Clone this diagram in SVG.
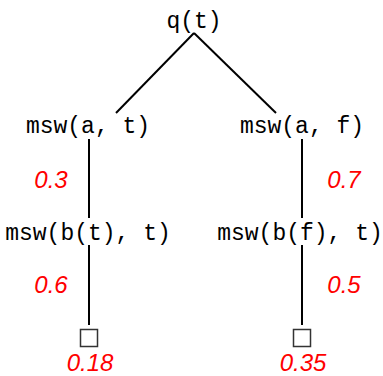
<svg xmlns="http://www.w3.org/2000/svg" width="383" height="376" viewBox="0 0 383 376">
<style>
.n{font-family:"Liberation Mono","DejaVu Sans Mono",monospace;font-size:23px;fill:#000;text-anchor:middle}
.p{font-family:"Liberation Sans",Arial,sans-serif;font-style:italic;font-size:24px;fill:#ff0000;text-anchor:middle}
.e{stroke:#000;stroke-width:2;fill:none}
.leaf{stroke:#333;stroke-width:1.5;fill:#fff}
</style>
<rect width="383" height="376" fill="#fff"/>
<g id="connectors">
<line class="e" x1="194" y1="33" x2="116" y2="113"/>
<line class="e" x1="194" y1="33" x2="276" y2="113"/>
<line class="e" x1="89" y1="139" x2="89" y2="218"/>
<line class="e" x1="302" y1="139" x2="302" y2="218"/>
<line class="e" x1="89" y1="245" x2="89" y2="325"/>
<line class="e" x1="302" y1="245" x2="302" y2="325"/>
</g>
<g id="root"><text class="n" x="194" y="28">q(t)</text></g>
<g id="msw_a_t"><text class="n" x="88" y="133">msw(a, t)</text></g>
<g id="msw_a_f"><text class="n" x="302" y="133">msw(a, f)</text></g>
<g id="msw_bt_t"><text class="n" x="88" y="240">msw(b(t), t)</text></g>
<g id="msw_bf_t"><text class="n" x="300" y="240">msw(b(f), t)</text></g>
<g id="leaf_left"><rect class="leaf" x="80.5" y="329.5" width="17" height="17"/></g>
<g id="leaf_right"><rect class="leaf" x="293.5" y="329.5" width="17" height="17"/></g>
<g id="labels">
<text class="p" x="51" y="188">0.3</text>
<text class="p" x="344" y="188">0.7</text>
<text class="p" x="51" y="293">0.6</text>
<text class="p" x="344" y="293">0.5</text>
<text class="p" x="90" y="371">0.18</text>
<text class="p" x="303" y="371">0.35</text>
</g>
</svg>
